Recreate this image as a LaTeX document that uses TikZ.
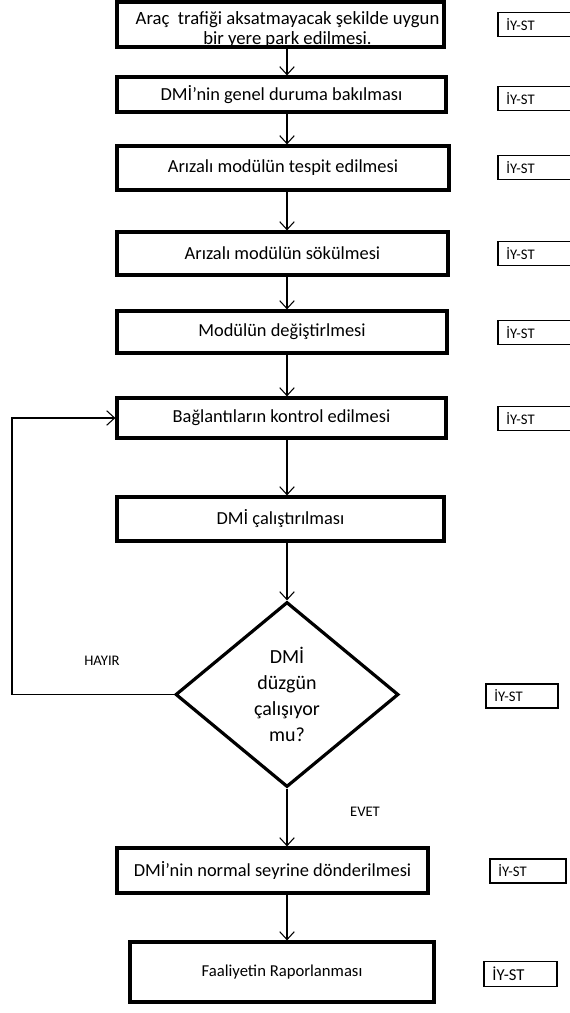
\documentclass[tikz,border=0pt]{standalone}
\usepackage{fontspec}
\setmainfont{Carlito}
\usetikzlibrary{shapes.geometric,arrows.meta}
\begin{document}
\begin{tikzpicture}[x=0.75pt,y=-0.75pt,
  stepbox/.style={draw,line width=2.4pt,rectangle,inner sep=0pt,align=center,font=\fontsize{13.8}{15}\selectfont},
  decbox/.style={draw,line width=2.4pt,diamond,inner sep=0pt,align=center,font=\fontsize{15}{19.5}\selectfont},
  flow/.style={line width=0.8pt,-{Straight Barb[length=6pt,width=11pt,line width=0.8pt]}},
  lbl/.style={font=\fontsize{11}{12}\selectfont},
  tag/.style={draw,line width=1.2pt,inner sep=0pt,minimum height=24*0.75pt,minimum width=76*0.75pt,anchor=west,font=\fontsize{11}{12}\selectfont,text width=76*0.75pt-13pt,align=left}
]
\useasboundingbox (0,0) rectangle (569,1013);
\coordinate (ax) at (287,0);
\node[stepbox,minimum width=327*0.75pt,minimum height=45*0.75pt] (b1) at (280.5,24.5) {};
\node[align=center,inner sep=0pt,font=\fontsize{14}{15}\selectfont] (b1t) at (287.5,30) {Araç~ trafiği aksatmayacak şekilde uygun\\bir yere park edilmesi.};
\node[stepbox,minimum width=329*0.75pt,minimum height=35*0.75pt] (b2) at (281.5,94.5) {DMİ'nin genel duruma bakılması};
\node[stepbox,minimum width=332*0.75pt,minimum height=44*0.75pt] (b3) at (283,168) {Arızalı modülün tespit edilmesi};
\node[stepbox,minimum width=331*0.75pt,minimum height=43*0.75pt] (b4) at (282.5,253.5) {Arızalı modülün sökülmesi};
\node[stepbox,minimum width=330*0.75pt,minimum height=42*0.75pt] (b5) at (282,332) {Modülün değiştirlmesi};
\node[stepbox,minimum width=329*0.75pt,minimum height=40*0.75pt] (b6) at (281.5,418) {Bağlantıların kontrol edilmesi};
\node[stepbox,minimum width=327*0.75pt,minimum height=44*0.75pt] (b7) at (280.5,519) {DMİ çalıştırılması};
\node[decbox,minimum width=223*0.75pt,minimum height=185*0.75pt] (d) at (287,694.5) {DMİ\\düzgün\\çalışıyor\\mu?};
\node[stepbox,minimum width=311*0.75pt,minimum height=45*0.75pt] (b8) at (272.5,870.5) {DMİ'nin normal seyrine dönderilmesi};
\node[stepbox,minimum width=304*0.75pt,minimum height=60*0.75pt,font=\fontsize{12.5}{14}\selectfont] (b9) at (282,972) {Faaliyetin Raporlanması};

\node[tag] (t1) at (497,24.5) {İY-ST};
\node[tag] (t2) at (497,98.5) {İY-ST};
\node[tag] (t3) at (497,167.5) {İY-ST};
\node[tag] (t4) at (497,253.5) {İY-ST};
\node[tag] (t5) at (497,332.5) {İY-ST};
\node[tag] (t6) at (497,418.5) {İY-ST};
\node[tag,minimum width=72*0.75pt,text width=72*0.75pt-13pt] (t7) at (485,696) {İY-ST};
\node[tag] (t8) at (489,871) {İY-ST};
\node[tag,minimum width=73*0.75pt,text width=73*0.75pt-13pt,minimum height=25*0.75pt,font=\fontsize{12.5}{14}\selectfont] (t9) at (483,974) {İY-ST};

\draw[flow] (b1.south -| ax) -- (b2.north -| ax);
\draw[flow] (b2.south -| ax) -- (b3.north -| ax);
\draw[flow] (b3.south -| ax) -- (b4.north -| ax);
\draw[flow] (b4.south -| ax) -- (b5.north -| ax);
\draw[flow] (b5.south -| ax) -- (b6.north -| ax);
\draw[flow] (b6.south -| ax) -- (b7.north -| ax);
\draw[flow] (b7.south -| ax) -- (d.north);
\draw[flow] (d.south) -- (b8.north -| ax);
\draw[flow] (b8.south -| ax) -- (b9.north -| ax);
\coordinate (lp) at (12,0);
\draw[flow] (d.west) -- (d.west -| lp) -- (b6.west -| lp) -- (b6.west);
\node[lbl] (hayir) at (102,661) {HAYIR};
\node[lbl] (evet) at (365,812) {EVET};
\end{tikzpicture}
\end{document}
